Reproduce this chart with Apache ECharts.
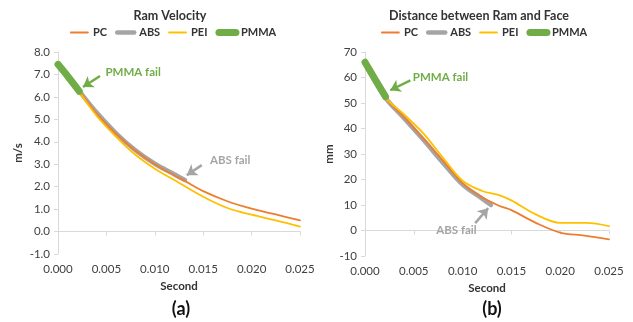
<!DOCTYPE html>
<html><head><meta charset="utf-8">
<script src="https://cdn.jsdelivr.net/npm/echarts@6/dist/echarts.min.js"></script>
<style>html,body{margin:0;padding:0;background:#fff}#c{width:633px;height:322px}</style>
</head><body><div id="c"></div>
<script>
// ---- data ----
var seriesNames = ['PC', 'ABS', 'PEI', 'PMMA'];
var xTicks = ['0.000','0.005','0.010','0.015','0.020','0.025'];
// Ram velocity (m/s)
var velPC_t  = [0, 0.0022, 0.004, 0.006, 0.008, 0.010, 0.012, 0.013, 0.015, 0.0175, 0.020, 0.0225, 0.025];
var velPC_v  = [7.4, 6.25, 5.25, 4.35, 3.6, 3.0, 2.5, 2.28, 1.8, 1.35, 1.02, 0.76, 0.5];
var velABS_t = [0, 0.0022, 0.004, 0.006, 0.008, 0.010, 0.012, 0.0131];
var velABS_v = [7.4, 6.25, 5.3, 4.38, 3.62, 3.02, 2.55, 2.3];
var velPEI_t = [0, 0.0022, 0.004, 0.006, 0.008, 0.010, 0.012, 0.015, 0.0175, 0.020, 0.0225, 0.025];
var velPEI_v = [7.4, 6.2, 5.15, 4.22, 3.42, 2.8, 2.3, 1.55, 1.05, 0.75, 0.5, 0.22];
var velPMMA_t = [0, 0.001, 0.0022];
var velPMMA_v = [7.45, 6.92, 6.25];
// Distance between ram and face (mm)
var disPC_t  = [0, 0.002, 0.004, 0.006, 0.008, 0.010, 0.012, 0.0138, 0.015, 0.0175, 0.020, 0.0225, 0.025];
var disPC_v  = [65.5, 52.5, 44.5, 36, 27.3, 18.5, 13, 9.6, 8, 3, -0.8, -2, -3.5];
var disABS_t = [0, 0.002, 0.004, 0.006, 0.008, 0.010, 0.012, 0.0129];
var disABS_v = [65.5, 52.5, 44, 35.5, 26.5, 18, 12.5, 10];
var disPEI_t = [0, 0.002, 0.004, 0.006, 0.008, 0.010, 0.012, 0.0138, 0.015, 0.0175, 0.020, 0.0227, 0.025];
var disPEI_v = [65.5, 52.5, 45.5, 38, 28.5, 19.5, 15.5, 13.8, 11.8, 6.3, 3.0, 3.0, 1.7];
var disPMMA_t = [0, 0.001, 0.0021];
var disPMMA_v = [66, 59.5, 52.5];
// annotations (data coordinates): [from t, from y, to t, to y, label t, label y]
var velPMMAFail = [0.00434, 6.93, 0.00258, 6.44, 0.0049, 7.08];
var velABSFail  = [0.01485, 2.96, 0.0133, 2.51, 0.0157, 3.18];
var disPMMAFail = [0.00465, 58.9, 0.00259, 55.0, 0.0049, 60.1];
var disABSFail  = [0.01129, 2.9, 0.01262, 8.75, 0.0073, 0.1];

// ---- styles ----
var colors = {PC:'#ED7D31', ABS:'#A5A5A5', PEI:'#FFC000', PMMA:'#70AD47'};
var widths = {PC:1.8, ABS:4.5, PEI:1.8, PMMA:7};
var FONT = 'Lato, "Open Sans", sans-serif';

function pairs(t, v){ return t.map(function(x,i){ return [x, v[i]]; }); }
function mkSeries(name, t, v, idx){
  return {name:name, type:'line', xAxisIndex:idx, yAxisIndex:idx, smooth:0.35,
    symbol:'none', data:pairs(t,v), z: name==='PMMA'?5:(name==='ABS'?2:3),
    lineStyle:{color:colors[name], width:widths[name], cap:'round'},
    itemStyle:{color:colors[name]}};
}
function annot(a, text, color, idx, labelPos){
  return {type:'line', xAxisIndex:idx, yAxisIndex:idx, data:[], silent:true,
    markLine:{silent:true, symbol:['none','arrow'], symbolSize:[10,10],
      lineStyle:{color:color, width:2.5, type:'solid'}, label:{show:false},
      data:[[{coord:[a[0],a[1]]},{coord:[a[2],a[3]]}]]},
    markPoint:{silent:true, symbol:'circle', symbolSize:0,
      data:[{coord:[a[4],a[5]]}],
      label:{show:true, position:labelPos, distance:0, formatter:text, color:color,
        fontFamily:FONT, fontWeight:'bold', fontSize:11.5}}};
}
function xAxis(idx){
  return {type:'value', gridIndex:idx, min:0, max:0.025, interval:0.005,
    name:'Second', nameLocation:'middle', nameGap:25,
    nameTextStyle:{fontFamily:FONT, fontWeight:'bold', fontSize:11.5, color:'#333'},
    axisLine:{lineStyle:{color:'#D9D9D9'}}, axisTick:{show:true, length:4, lineStyle:{color:'#D9D9D9'}},
    splitLine:{show:false},
    axisLabel:{fontFamily:FONT, fontSize:11.5, color:'#404040', margin:9,
      formatter:function(v){ return xTicks[Math.round(v/0.005)]; }}};
}
function legendData(){
  return seriesNames.map(function(n){
    return {name:n, lineStyle:{width:widths[n], color:colors[n]}, itemStyle:{opacity:0}};
  });
}
var legendText = {fontFamily:FONT, fontWeight:'bold', fontSize:11, color:'#333'};

var option = {
  animation:false,
  backgroundColor:'#fff',
  title:[
    {text:'Ram Velocity', left:165, top:4, textAlign:'center', textStyle:{fontFamily:FONT, fontWeight:'bold', fontSize:12.5, color:'#333'}},
    {text:'Distance between Ram and Face', left:474, top:4, textAlign:'center', textStyle:{fontFamily:FONT, fontWeight:'bold', fontSize:12.5, color:'#333'}},
    {text:'(a)', left:176, top:295, textAlign:'center', textStyle:{fontFamily:FONT, fontWeight:'bold', fontSize:18, color:'#111'}},
    {text:'(b)', left:487, top:295, textAlign:'center', textStyle:{fontFamily:FONT, fontWeight:'bold', fontSize:18, color:'#111'}}
  ],
  legend:[
    {data:legendData(), left:70, top:27, padding:0, itemWidth:17, itemHeight:8, itemGap:8,
      itemStyle:{opacity:0}, textStyle:legendText},
    {data:legendData(), left:381, top:27, padding:0, itemWidth:17, itemHeight:8, itemGap:8,
      itemStyle:{opacity:0}, textStyle:legendText}
  ],
  grid:[
    {left:58, right:333, top:52, bottom:68},
    {left:365, right:24, top:52, bottom:66}
  ],
  xAxis:[xAxis(0), xAxis(1)],
  yAxis:[
    {type:'value', gridIndex:0, min:-1, max:8, interval:1, name:'m/s', nameLocation:'middle', nameGap:34,
      nameTextStyle:{fontFamily:FONT, fontWeight:'bold', fontSize:11.5, color:'#333'},
      axisLine:{show:true, lineStyle:{color:'#D9D9D9'}}, axisTick:{show:true, length:4, lineStyle:{color:'#D9D9D9'}},
      splitLine:{show:false},
      axisLabel:{fontFamily:FONT, fontSize:11.5, color:'#404040', margin:8, formatter:function(v){return v.toFixed(1);}}},
    {type:'value', gridIndex:1, min:-10, max:70, interval:10, name:'mm', nameLocation:'middle', nameGap:30,
      nameTextStyle:{fontFamily:FONT, fontWeight:'bold', fontSize:11.5, color:'#333'},
      axisLine:{show:true, lineStyle:{color:'#D9D9D9'}}, axisTick:{show:true, length:4, lineStyle:{color:'#D9D9D9'}},
      splitLine:{show:false},
      axisLabel:{fontFamily:FONT, fontSize:11.5, color:'#404040', margin:8}}
  ],
  series:[
    mkSeries('PC', velPC_t, velPC_v, 0),
    mkSeries('ABS', velABS_t, velABS_v, 0),
    mkSeries('PEI', velPEI_t, velPEI_v, 0),
    mkSeries('PMMA', velPMMA_t, velPMMA_v, 0),
    mkSeries('PC', disPC_t, disPC_v, 1),
    mkSeries('ABS', disABS_t, disABS_v, 1),
    mkSeries('PEI', disPEI_t, disPEI_v, 1),
    mkSeries('PMMA', disPMMA_t, disPMMA_v, 1),
    annot(velPMMAFail, 'PMMA fail', colors.PMMA, 0, 'right'),
    annot(velABSFail, 'ABS fail', '#A5A5A5', 0, 'right'),
    annot(disPMMAFail, 'PMMA fail', colors.PMMA, 1, 'right'),
    annot(disABSFail, 'ABS fail', '#A5A5A5', 1, 'right')
  ]
};
var chart = echarts.init(document.getElementById('c'), null, {renderer:'canvas'});
chart.setOption(option);
</script></body></html>
